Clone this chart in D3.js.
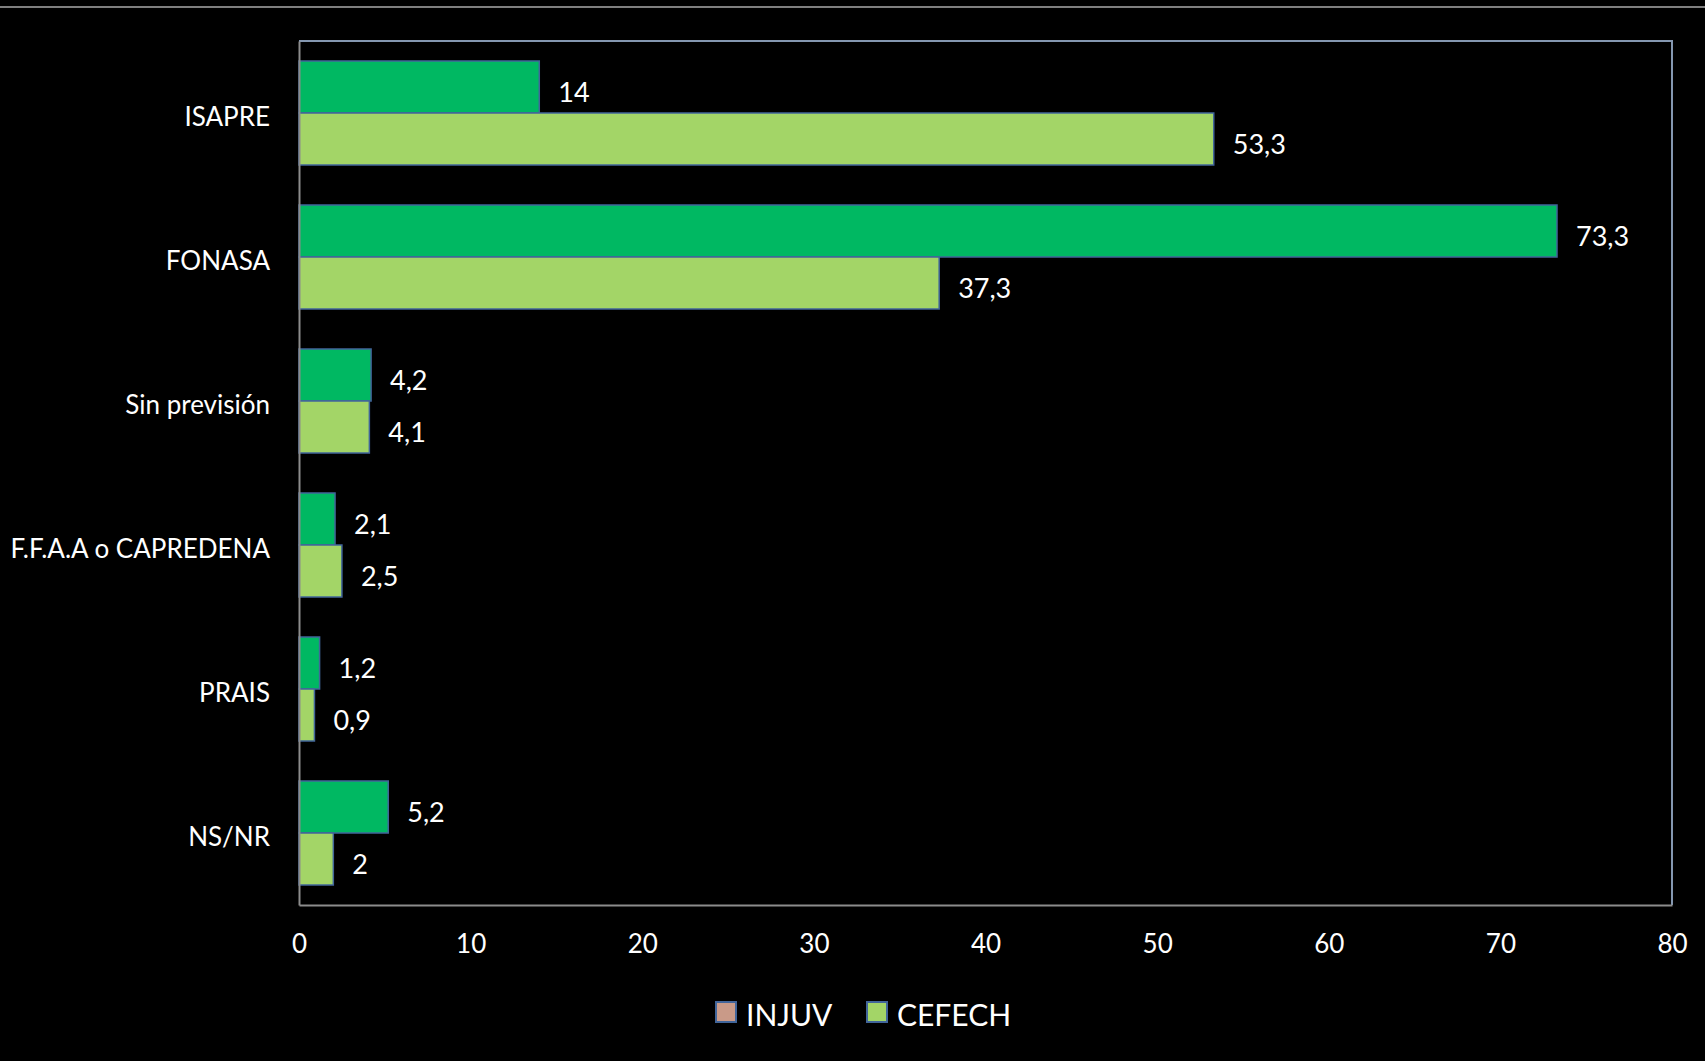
<!DOCTYPE html>
<html>
<head>
<meta charset="utf-8">
<script src="https://cdn.jsdelivr.net/npm/d3@7"></script>
<style>
  html, body { margin: 0; padding: 0; background: #000; }
  svg { display: block; }
  text { font-family: Lato, "Open Sans", sans-serif; fill: #fff; }
</style>
</head>
<body>
<script>
const categories = ["ISAPRE", "FONASA", "Sin previsión", "F.F.A.A o CAPREDENA", "PRAIS", "NS/NR"];
const seriesNames = ["INJUV", "CEFECH"];
const injuvValues = [14, 73.3, 4.2, 2.1, 1.2, 5.2];
const cefechValues = [53.3, 37.3, 4.1, 2.5, 0.9, 2];
const xTicks = [0, 10, 20, 30, 40, 50, 60, 70, 80];

const barColors = { INJUV: "#00B862", CEFECH: "#A3D567" };
const legendColors = { INJUV: "#C99A88", CEFECH: "#A3D567" };

const W = 1705, H = 1061;
const L = 299, R = 1672, T = 41, B = 905;

const svg = d3.select("body").append("svg").attr("width", W).attr("height", H);
svg.append("rect").attr("width", W).attr("height", H).attr("fill", "#000");

// top separator line
svg.append("line").attr("x1", 0).attr("x2", W).attr("y1", 7).attr("y2", 7)
  .attr("stroke", "#7F7F7F").attr("stroke-width", 2);

const x = d3.scaleLinear().domain([0, 80]).range([L, R]);
const p = 40 / 144;
const y = d3.scaleBand().domain(categories).range([T, B]).paddingInner(p).paddingOuter(p / 2);
const y1 = d3.scaleBand().domain(seriesNames).range([0, y.bandwidth()]);

// plot frame (top/right)
svg.append("path")
  .attr("d", `M${L},${T}H${R}V${B}`)
  .attr("fill", "none").attr("stroke", "#8497B0").attr("stroke-width", 2);

const data = categories.map((c, i) => ({
  cat: c,
  vals: [{ s: "INJUV", v: injuvValues[i] }, { s: "CEFECH", v: cefechValues[i] }]
}));

const fmt = v => String(v).replace(".", ",");

const g = svg.append("g").selectAll("g").data(data).join("g")
  .attr("transform", d => `translate(0,${y(d.cat)})`);

g.selectAll("rect").data(d => d.vals).join("rect")
  .attr("x", x(0))
  .attr("y", d => y1(d.s))
  .attr("width", d => x(d.v) - x(0))
  .attr("height", y1.bandwidth())
  .attr("fill", d => barColors[d.s])
  .attr("stroke", "#41659A").attr("stroke-width", 1.5);

g.selectAll("text.val").data(d => d.vals).join("text")
  .attr("class", "val")
  .attr("x", d => x(d.v) + 19)
  .attr("y", d => y1(d.s) + y1.bandwidth() / 2 + 4)
  .attr("dominant-baseline", "central")
  .attr("font-size", 27)
  .text(d => fmt(d.v));

// axes
const xAxis = d3.axisBottom(x).tickValues(xTicks).tickSize(0).tickPadding(30);
const gx = svg.append("g").attr("transform", `translate(0,${B})`).call(xAxis);
gx.select(".domain").attr("stroke", "#8C8C8C").attr("stroke-width", 2);
gx.selectAll("text").attr("font-size", 26).attr("font-family", "Lato").attr("fill", "#fff");

const yAxis = d3.axisLeft(y).tickSize(0).tickPadding(29);
const gy = svg.append("g").attr("transform", `translate(${L},0)`).call(yAxis);
gy.select(".domain").attr("stroke", "#8C8C8C").attr("stroke-width", 2);
gy.selectAll("text").attr("font-size", 26).attr("font-family", "Lato").attr("fill", "#fff")
  .attr("dy", "0.5em");

// legend
const legend = svg.append("g");
const legendPos = [{ s: "INJUV", x: 716 }, { s: "CEFECH", x: 867 }];
legendPos.forEach(d => {
  legend.append("rect").attr("x", d.x).attr("y", 1002).attr("width", 20).attr("height", 20)
    .attr("fill", legendColors[d.s]).attr("stroke", "#41659A").attr("stroke-width", 2);
  legend.append("text").attr("x", d.x + 30).attr("y", 1014)
    .attr("dominant-baseline", "central").attr("font-size", 30).text(d.s);
});
</script>
</body>
</html>
